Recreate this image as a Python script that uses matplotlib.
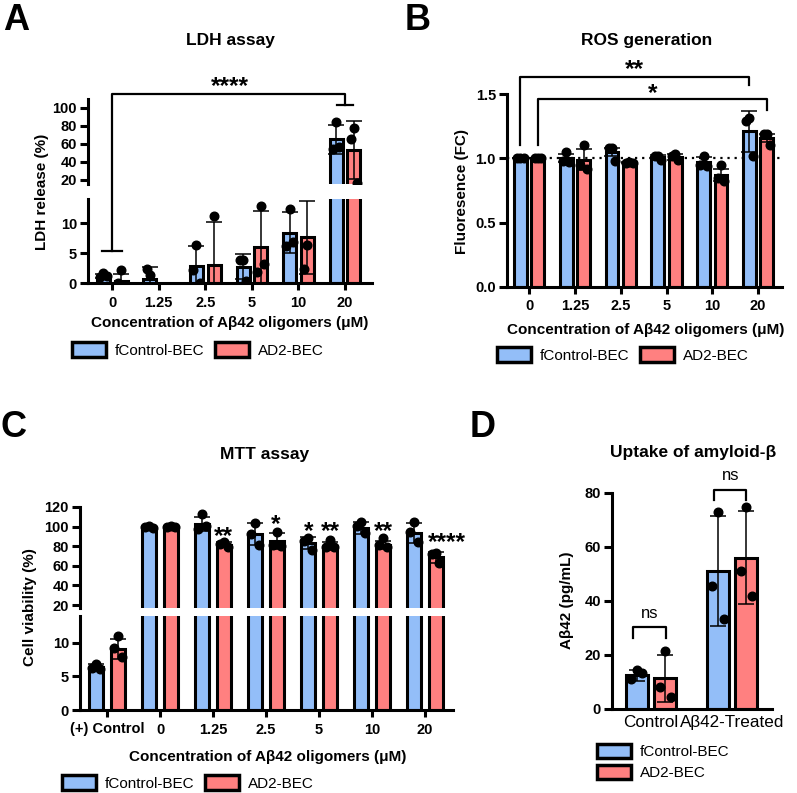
import numpy as np
import matplotlib.pyplot as plt
from matplotlib.patches import Patch

plt.rcParams['font.family'] = ['Liberation Sans', 'DejaVu Sans']
plt.rcParams['axes.linewidth'] = 2.2

BLUE = '#93BEF8'
RED = '#FF8080'
W, H = 797, 793

# ---------------- data ----------------
conc = ['0', '1.25', '2.5', '5', '10', '20']

# A: LDH release (%)
ldh_ctrl = [1.2, 0.7, 2.8, 2.7, 8.4, 65.2]
ldh_ctrl_sd = [0.3, 2.0, 3.4, 2.1, 3.4, 16.2]
ldh_ctrl_pts = [[1.7, 1.0, 1.1], [1.4, 2.4], [6.4, 2.1, 0.0], [3.9, 3.9, 0.4],
                [12.3, 6.1, 6.9], [84.4, 54.4, 56.7]]
ldh_ad = [0.3, None, 3.0, 6.0, 7.6, 53.4]
ldh_ad_sd = [1.2, None, 7.1, 6.0, 6.1, 32.5]
ldh_ad_pts = [[2.1, 0.0], [], [11.1], [12.9, 1.9, 3.1], [6.4, 2.3], [77.8, 65.6, 16.7]]

# B: ROS fluorescence (FC)
ros_ctrl = [1.0, 1.0, 1.05, 1.01, 0.97, 1.21]
ros_ctrl_sd = [0.0, 0.03, 0.03, 0.015, 0.04, 0.16]
ros_ctrl_pts = [[1.0, 1.0, 1.0], [1.05, 0.98, 0.97], [1.08, 1.08, 0.98],
                [1.02, 1.02, 0.99], [1.02, 0.95, 0.94], [1.31, 1.29, 1.02]]
ros_ad = [1.0, 0.99, 0.97, 1.01, 0.87, 1.16]
ros_ad_sd = [0.0, 0.08, 0.005, 0.02, 0.05, 0.03]
ros_ad_pts = [[1.0, 1.0, 1.0], [1.10, 0.95, 0.92], [0.97, 0.96, 0.96],
              [1.03, 1.02, 0.99], [0.95, 0.85, 0.82], [1.19, 1.19, 1.10]]

# C: MTT cell viability (%)
mtt_groups = ['(+) Control', '0', '1.25', '2.5', '5', '10', '20']
mtt_ctrl = [6.4, 100, 103, 92.4, 83.3, 98.6, 93.5]
mtt_ctrl_sd = [0.4, 1.0, 7.0, 11.4, 6.0, 6.0, 10.0]
mtt_ctrl_pts = [[6.9, 6.3, 6.1], [101, 100, 99], [113, 98, 101], [103.7, 92, 81],
                [88, 85, 76], [104.7, 101, 93], [104.7, 95, 84]]
mtt_ad = [9.1, 100, 81.5, 85.3, 80.2, 81.2, 68.5]
mtt_ad_sd = [1.5, 1.0, 2.5, 8.0, 4.0, 4.5, 5.5]
mtt_ad_pts = [[11.0, 9.2, 7.9], [101, 100, 100], [84, 82.5, 79], [94.5, 81, 80],
              [86, 79.5, 79], [88, 81, 79], [73, 72, 62.8]]
# significance labels vs 0 uM: (x in category units, y, label)
mtt_stars = [(2.19, 89.5, '**'), (3.19, 101.7, '*'), (3.81, 94.6, '*'),
             (4.21, 94.6, '**'), (5.21, 94.6, '**'), (6.42, 83.3, '****')]

# D: Abeta42 uptake (pg/mL)
upt_groups = ['Control', 'Aβ42-Treated']
upt_ctrl = [12.5, 51.0]
upt_ctrl_sd = [2.0, 20.3]
upt_ctrl_pts = [[14.5, 11.0, 13.5], [73.0, 45.5, 33.5]]
upt_ad = [11.3, 56.0]
upt_ad_sd = [8.8, 17.2]
upt_ad_pts = [[21.5, 8.3, 4.3], [75.0, 51.0, 42.0]]

JIT = np.array([0.0, -0.07, 0.07])


def rect(l, t, r, b):
    return [l / W, 1 - b / H, (r - l) / W, (b - t) / H]


def fx(x):
    return x / W


def fy(y):
    return 1 - y / H


def style(ax, yticks, ylabels=None, xticks=None, xlabels=None, xbold=True, xtick_len=5):
    ax.spines['top'].set_visible(False)
    ax.spines['right'].set_visible(False)
    ax.tick_params(axis='y', width=2.2, length=6, pad=2)
    if ylabels is None:
        ylabels = ['%g' % t for t in yticks]
    ax.set_yticks(yticks, ylabels, fontsize=10.5, fontweight='bold')
    if xticks is None:
        ax.spines['bottom'].set_visible(False)
        ax.tick_params(axis='x', bottom=False, labelbottom=False)
    else:
        ax.tick_params(axis='x', width=2.2, length=xtick_len, pad=4)
        ax.set_xticks(xticks, xlabels, fontsize=10.5 if xbold else 12.3,
                      fontweight='bold' if xbold else 'normal')


def draw_series(ax, x, means, sds, pts, color, width, ymin=None):
    for xi, m, s, p in zip(x, means, sds, pts):
        if m is not None and (ymin is None or m + s > ymin):
            ax.bar(xi, m, width, color=color, edgecolor='black', linewidth=2.2, zorder=2)
            ax.errorbar(xi, m, yerr=s, fmt='none', ecolor='black', elinewidth=1.1,
                        capsize=5.5, capthick=1.1, zorder=3)
        p = [v for v in p if ymin is None or v > ymin]
        if len(p):
            ax.plot(xi + JIT[:len(p)], p, 'o', color='black', ms=6.2, zorder=4)


def bracket(ax, x0, x1, y_top, y0, y1):
    ax.plot([x0, x0, x1, x1], [y0, y_top, y_top, y1], color='black', lw=1.6,
            clip_on=False, zorder=5)


def stars(ax, x, y, s):
    ax.text(x, y, s, ha='center', va='center', fontsize=17.5, fontweight='bold', zorder=6)


fig = plt.figure(figsize=(W / 100, H / 100), dpi=100)

# ---------------- Panel A ----------------
xa = np.arange(len(conc))
off, bw = 0.19, 0.28
axA_lo = fig.add_axes(rect(88, 199, 372, 283))
axA_up = fig.add_axes(rect(88, 99, 372, 184))
for ax, ymin in ((axA_lo, None), (axA_up, 15.5)):
    draw_series(ax, xa - off, ldh_ctrl, ldh_ctrl_sd, ldh_ctrl_pts, BLUE, bw, ymin)
    draw_series(ax, xa + off, ldh_ad, ldh_ad_sd, ldh_ad_pts, RED, bw, ymin)
    ax.set_xlim(-0.52, 5.58)
axA_lo.set_ylim(0, 14)
axA_up.set_ylim(15.5, 110)
style(axA_lo, [0, 5, 10], None, xa, conc)
style(axA_up, [20, 40, 60, 80, 100])
axA_up.patch.set_alpha(0)


def lo_to_up(y):
    d = axA_lo.transData.transform((0, y))
    return axA_up.transData.inverted().transform(d)[1]


yl = lo_to_up(5.3)
axA_up.plot([0, 0, 5, 5], [yl, 115.6, 115.6, 103.3], color='black', lw=1.6,
            clip_on=False, zorder=5)
axA_up.plot([-0.21, 0.21], [yl, yl], color='black', lw=1.6, clip_on=False, zorder=5)
axA_up.plot([4.83, 5.17], [103.3, 103.3], color='black', lw=1.6, clip_on=False, zorder=5)
stars(axA_up, 2.53, 123.5, '****')

fig.text(fx(230), fy(40), 'LDH assay', ha='center', va='center', fontsize=12.5, fontweight='bold')
fig.text(fx(42), fy(192), 'LDH release (%)', rotation=90, ha='center', va='center',
         fontsize=11, fontweight='bold')
fig.text(fx(230), fy(323), 'Concentration of Aβ42 oligomers (μM)', ha='center', va='center',
         fontsize=11, fontweight='bold')

# ---------------- Panel B ----------------
axB = fig.add_axes(rect(507, 94, 782, 287))
draw_series(axB, xa - off, ros_ctrl, ros_ctrl_sd, ros_ctrl_pts, BLUE, bw)
draw_series(axB, xa + off, ros_ad, ros_ad_sd, ros_ad_pts, RED, bw)
axB.axhline(1.0, color='black', lw=1.6, ls=(0, (1, 2.2)), zorder=1)
axB.set_xlim(-0.48, 5.52)
axB.set_ylim(0, 1.5)
style(axB, [0.0, 0.5, 1.0, 1.5], ['0.0', '0.5', '1.0', '1.5'], xa, conc)
bracket(axB, -off, 5 - off, 1.632, 1.10, 1.57)
bracket(axB, off, 5 + off, 1.461, 1.10, 1.376)
stars(axB, 2.31, 1.69, '**')
stars(axB, 2.69, 1.50, '*')

fig.text(fx(647), fy(40), 'ROS generation', ha='center', va='center', fontsize=12.5, fontweight='bold')
fig.text(fx(462), fy(191), 'Fluoresence (FC)', rotation=90, ha='center', va='center',
         fontsize=11, fontweight='bold')
fig.text(fx(646), fy(330), 'Concentration of Aβ42 oligomers (μM)', ha='center', va='center',
         fontsize=11, fontweight='bold')

# ---------------- Panel C ----------------
xc = np.arange(len(mtt_groups))
offc, bwc = 0.205, 0.27
axC_lo = fig.add_axes(rect(80, 616, 453, 710))
axC_up = fig.add_axes(rect(80, 507, 453, 608))
for ax, ymin in ((axC_lo, None), (axC_up, 17)):
    draw_series(ax, xc - offc, mtt_ctrl, mtt_ctrl_sd, mtt_ctrl_pts, BLUE, bwc, ymin)
    draw_series(ax, xc + offc, mtt_ad, mtt_ad_sd, mtt_ad_pts, RED, bwc, ymin)
    ax.set_xlim(-0.51, 6.53)
axC_lo.set_ylim(0, 14)
axC_up.set_ylim(17, 120)
style(axC_lo, [0, 5, 10], None, xc, mtt_groups)
style(axC_up, [20, 40, 60, 80, 100, 120])
for x, y, s in mtt_stars:
    stars(axC_up, x, y, s)

fig.text(fx(265), fy(455), 'MTT assay', ha='center', va='center', fontsize=12.5, fontweight='bold')
fig.text(fx(30), fy(607), 'Cell viability (%)', rotation=90, ha='center', va='center',
         fontsize=11, fontweight='bold')
fig.text(fx(268), fy(757), 'Concentration of Aβ42 oligomers (μM)', ha='center', va='center',
         fontsize=11, fontweight='bold')

# ---------------- Panel D ----------------
xd = np.arange(len(upt_groups))
offd, bwd = 0.175, 0.27
axD = fig.add_axes(rect(612, 493, 772, 709))
draw_series(axD, xd - offd, upt_ctrl, upt_ctrl_sd, upt_ctrl_pts, BLUE, bwd)
draw_series(axD, xd + offd, upt_ad, upt_ad_sd, upt_ad_pts, RED, bwd)
axD.set_xlim(-0.48, 1.49)
axD.set_ylim(0, 80)
style(axD, [0, 20, 40, 60, 80], None, xd, upt_groups, xbold=False, xtick_len=0)
bracket(axD, -0.22, 0.18, 30.3, 26.3, 26.3)
bracket(axD, 0.78, 1.17, 81.0, 77.4, 77.4)
axD.text(-0.02, 35.5, 'ns', ha='center', va='center', fontsize=12)
axD.text(0.975, 86.5, 'ns', ha='center', va='center', fontsize=12)

fig.text(fx(693), fy(452), 'Uptake of amyloid-β', ha='center', va='center', fontsize=12.5, fontweight='bold')
fig.text(fx(567), fy(600), 'Aβ42 (pg/mL)', rotation=90, ha='center', va='center',
         fontsize=11, fontweight='bold')

# ---------------- legends and letters ----------------
handles = [Patch(facecolor=BLUE, edgecolor='black', linewidth=2.5),
           Patch(facecolor=RED, edgecolor='black', linewidth=2.5)]
labels = ['fControl-BEC', 'AD2-BEC']
leg_kw = dict(frameon=False, fontsize=11, handlelength=2.2, handleheight=1.1,
              handletextpad=0.6, columnspacing=0.7, borderpad=0, borderaxespad=0)
fig.legend(handles, labels, loc='center', bbox_to_anchor=(fx(198), fy(350)), ncol=2, **leg_kw)
fig.legend(handles, labels, loc='center', bbox_to_anchor=(fx(623), fy(355)), ncol=2, **leg_kw)
fig.legend(handles, labels, loc='center', bbox_to_anchor=(fx(188), fy(783)), ncol=2, **leg_kw)
fig.legend(handles, labels, loc='center left', bbox_to_anchor=(fx(597), fy(762)), ncol=1,
           labelspacing=0.35, **leg_kw)

for s, x, y in [('A', 3, 3), ('B', 405, 3), ('C', 0, 410), ('D', 470, 410)]:
    fig.text(fx(x), fy(y), s, ha='left', va='top', fontsize=26, fontweight='bold')

fig.savefig('out.png', dpi=100)
